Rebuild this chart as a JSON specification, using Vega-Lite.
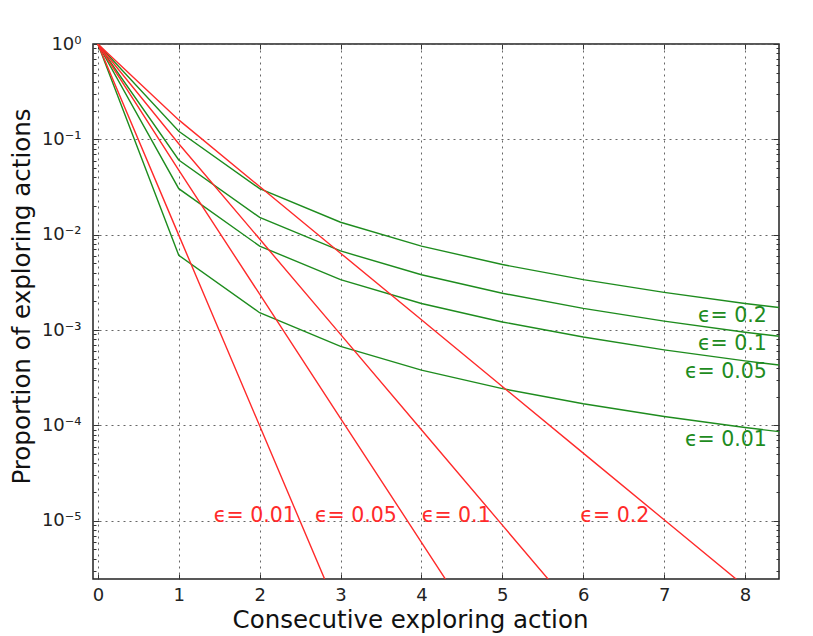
{
  "$schema": "https://vega.github.io/schema/vega-lite/v6.json",
  "width": 686,
  "height": 535,
  "autosize": {"type": "none"},
  "padding": {"left": 93, "top": 44, "right": 34, "bottom": 57},
  "background": "white",
  "config": {
    "font": "DejaVu Sans",
    "view": {"stroke": "#222", "strokeWidth": 1.5},
    "axis": {
      "domain": false,
      "labelFont": "DejaVu Sans",
      "titleFont": "DejaVu Sans",
      "labelColor": "#222",
      "titleColor": "#111",
      "labelFontSize": 18,
      "titleFontSize": 24.5,
      "titleFontWeight": "normal",
      "tickColor": "#333",
      "gridColor": "#666",
      "gridDash": [2, 4],
      "gridWidth": 1
    }
  },
  "datasets": {
    "curves": [
      {"kind": "zeta", "eps": 0.2, "k": 0, "p": 1},
      {"kind": "zeta", "eps": 0.2, "k": 1, "p": 0.12159},
      {"kind": "zeta", "eps": 0.2, "k": 2, "p": 0.030396},
      {"kind": "zeta", "eps": 0.2, "k": 3, "p": 0.013509},
      {"kind": "zeta", "eps": 0.2, "k": 4, "p": 0.007599},
      {"kind": "zeta", "eps": 0.2, "k": 5, "p": 0.0048634},
      {"kind": "zeta", "eps": 0.2, "k": 6, "p": 0.0033774},
      {"kind": "zeta", "eps": 0.2, "k": 7, "p": 0.0024813},
      {"kind": "zeta", "eps": 0.2, "k": 8, "p": 0.0018998},
      {"kind": "zeta", "eps": 0.2, "k": 9, "p": 0.0015011},
      {"kind": "zeta", "eps": 0.1, "k": 0, "p": 1},
      {"kind": "zeta", "eps": 0.1, "k": 1, "p": 0.060793},
      {"kind": "zeta", "eps": 0.1, "k": 2, "p": 0.015198},
      {"kind": "zeta", "eps": 0.1, "k": 3, "p": 0.0067547},
      {"kind": "zeta", "eps": 0.1, "k": 4, "p": 0.0037995},
      {"kind": "zeta", "eps": 0.1, "k": 5, "p": 0.0024317},
      {"kind": "zeta", "eps": 0.1, "k": 6, "p": 0.0016887},
      {"kind": "zeta", "eps": 0.1, "k": 7, "p": 0.0012407},
      {"kind": "zeta", "eps": 0.1, "k": 8, "p": 0.00094989},
      {"kind": "zeta", "eps": 0.1, "k": 9, "p": 0.00075053},
      {"kind": "zeta", "eps": 0.05, "k": 0, "p": 1},
      {"kind": "zeta", "eps": 0.05, "k": 1, "p": 0.030396},
      {"kind": "zeta", "eps": 0.05, "k": 2, "p": 0.007599},
      {"kind": "zeta", "eps": 0.05, "k": 3, "p": 0.0033774},
      {"kind": "zeta", "eps": 0.05, "k": 4, "p": 0.0018998},
      {"kind": "zeta", "eps": 0.05, "k": 5, "p": 0.0012159},
      {"kind": "zeta", "eps": 0.05, "k": 6, "p": 0.00084435},
      {"kind": "zeta", "eps": 0.05, "k": 7, "p": 0.00062034},
      {"kind": "zeta", "eps": 0.05, "k": 8, "p": 0.00047494},
      {"kind": "zeta", "eps": 0.05, "k": 9, "p": 0.00037527},
      {"kind": "zeta", "eps": 0.01, "k": 0, "p": 1},
      {"kind": "zeta", "eps": 0.01, "k": 1, "p": 0.0060793},
      {"kind": "zeta", "eps": 0.01, "k": 2, "p": 0.0015198},
      {"kind": "zeta", "eps": 0.01, "k": 3, "p": 0.00067547},
      {"kind": "zeta", "eps": 0.01, "k": 4, "p": 0.00037995},
      {"kind": "zeta", "eps": 0.01, "k": 5, "p": 0.00024317},
      {"kind": "zeta", "eps": 0.01, "k": 6, "p": 0.00016887},
      {"kind": "zeta", "eps": 0.01, "k": 7, "p": 0.00012407},
      {"kind": "zeta", "eps": 0.01, "k": 8, "p": 0.000094989},
      {"kind": "zeta", "eps": 0.01, "k": 9, "p": 0.000075053},
      {"kind": "geometric", "eps": 0.2, "k": 0, "p": 1},
      {"kind": "geometric", "eps": 0.2, "k": 1, "p": 0.16},
      {"kind": "geometric", "eps": 0.2, "k": 2, "p": 0.032},
      {"kind": "geometric", "eps": 0.2, "k": 3, "p": 0.0064},
      {"kind": "geometric", "eps": 0.2, "k": 4, "p": 0.00128},
      {"kind": "geometric", "eps": 0.2, "k": 5, "p": 0.000256},
      {"kind": "geometric", "eps": 0.2, "k": 6, "p": 0.0000512},
      {"kind": "geometric", "eps": 0.2, "k": 7, "p": 0.00001024},
      {"kind": "geometric", "eps": 0.2, "k": 8, "p": 0.000002048},
      {"kind": "geometric", "eps": 0.2, "k": 9, "p": 0.0000004096},
      {"kind": "geometric", "eps": 0.1, "k": 0, "p": 1},
      {"kind": "geometric", "eps": 0.1, "k": 1, "p": 0.09},
      {"kind": "geometric", "eps": 0.1, "k": 2, "p": 0.009},
      {"kind": "geometric", "eps": 0.1, "k": 3, "p": 0.0009},
      {"kind": "geometric", "eps": 0.1, "k": 4, "p": 0.00009},
      {"kind": "geometric", "eps": 0.1, "k": 5, "p": 0.000009},
      {"kind": "geometric", "eps": 0.1, "k": 6, "p": 0.0000009},
      {"kind": "geometric", "eps": 0.05, "k": 0, "p": 1},
      {"kind": "geometric", "eps": 0.05, "k": 1, "p": 0.0475},
      {"kind": "geometric", "eps": 0.05, "k": 2, "p": 0.002375},
      {"kind": "geometric", "eps": 0.05, "k": 3, "p": 0.00011875},
      {"kind": "geometric", "eps": 0.05, "k": 4, "p": 0.0000059375},
      {"kind": "geometric", "eps": 0.05, "k": 5, "p": 0.000000296875},
      {"kind": "geometric", "eps": 0.01, "k": 0, "p": 1},
      {"kind": "geometric", "eps": 0.01, "k": 1, "p": 0.0099},
      {"kind": "geometric", "eps": 0.01, "k": 2, "p": 0.000099},
      {"kind": "geometric", "eps": 0.01, "k": 3, "p": 0.00000099}
    ],
    "labels": [
      {"kind": "zeta", "label": "ϵ= 0.2", "x": 8.27, "y": 0.00140},
      {"kind": "zeta", "label": "ϵ= 0.1", "x": 8.27, "y": 0.00072},
      {"kind": "zeta", "label": "ϵ= 0.05", "x": 8.27, "y": 0.00036},
      {"kind": "zeta", "label": "ϵ= 0.01", "x": 8.27, "y": 0.000070},
      {"kind": "geometric", "label": "ϵ= 0.01", "x": 1.94, "y": 0.0000113},
      {"kind": "geometric", "label": "ϵ= 0.05", "x": 3.19, "y": 0.0000113},
      {"kind": "geometric", "label": "ϵ= 0.1", "x": 4.43, "y": 0.0000113},
      {"kind": "geometric", "label": "ϵ= 0.2", "x": 6.39, "y": 0.0000113}
    ]
  },
  "resolve": {"axis": {"x": "independent", "y": "independent"}},
  "layer": [
    {
      "data": {"name": "curves"},
      "mark": {"type": "line", "clip": true, "strokeWidth": 1.4},
      "encoding": {
        "x": {
          "field": "k", "type": "quantitative",
          "scale": {"domain": [-0.06, 8.42], "nice": false, "zero": false},
          "axis": {
            "orient": "bottom", "values": [0, 1, 2, 3, 4, 5, 6, 7, 8], "format": "d",
            "title": "Consecutive exploring action", "grid": true,
            "tickSize": -5, "labelPadding": 12,
            "titleX": 317, "titleY": 41, "titleBaseline": "middle", "titleAlign": "center"
          }
        },
        "y": {
          "field": "p", "type": "quantitative",
          "scale": {"type": "log", "domain": [0.00000245, 1], "nice": false},
          "axis": {
            "orient": "left",
            "values": [0.000003, 0.000004, 0.000005, 0.000006, 0.000007, 0.000008, 0.000009, 0.00001, 0.00002, 0.00003, 0.00004, 0.00005, 0.00006, 0.00007, 0.00008, 0.00009, 0.0001, 0.0002, 0.0003, 0.0004, 0.0005, 0.0006, 0.0007, 0.0008, 0.0009, 0.001, 0.002, 0.003, 0.004, 0.005, 0.006, 0.007, 0.008, 0.009, 0.01, 0.02, 0.03, 0.04, 0.05, 0.06, 0.07, 0.08, 0.09, 0.1, 0.2, 0.3, 0.4, 0.5, 0.6, 0.7, 0.8, 0.9, 1],
            "labelExpr": "abs(log(datum.value)/LN10 - round(log(datum.value)/LN10)) < 0.001 ? '10' + replace(replace(replace(replace(replace(replace(replace('' + round(log(datum.value)/LN10), '-', '⁻'), '0', '⁰'), '1', '¹'), '2', '²'), '3', '³'), '4', '⁴'), '5', '⁵') : ''",
            "grid": true,
            "gridOpacity": {"condition": {"test": "abs(log(datum.value)/LN10 - round(log(datum.value)/LN10)) < 0.001", "value": 1}, "value": 0},
            "tickSize": {"condition": {"test": "abs(log(datum.value)/LN10 - round(log(datum.value)/LN10)) < 0.001", "value": -6}, "value": -3},
            "labelPadding": 18,
            "title": "Proportion of exploring actions",
            "titleX": -71, "titleY": 252, "titleBaseline": "middle", "titleAlign": "center", "titleAngle": -90
          }
        },
        "color": {
          "field": "kind", "type": "nominal",
          "scale": {"domain": ["geometric", "zeta"], "range": ["#ff2a2a", "#1e8c1e"]},
          "legend": null
        },
        "detail": {"field": "eps", "type": "nominal"}
      }
    },
    {
      "data": {"name": "labels"},
      "transform": [{"filter": "datum.kind == 'zeta'"}],
      "mark": {"type": "text", "align": "right", "baseline": "middle", "fontSize": 20.5, "font": "DejaVu Sans"},
      "encoding": {
        "x": {
          "field": "x", "type": "quantitative",
          "axis": {"orient": "top", "values": [0, 1, 2, 3, 4, 5, 6, 7, 8], "labels": false, "title": null, "grid": false, "tickSize": -5}
        },
        "y": {
          "field": "y", "type": "quantitative",
          "axis": {
            "orient": "right",
            "values": [0.000003, 0.000004, 0.000005, 0.000006, 0.000007, 0.000008, 0.000009, 0.00001, 0.00002, 0.00003, 0.00004, 0.00005, 0.00006, 0.00007, 0.00008, 0.00009, 0.0001, 0.0002, 0.0003, 0.0004, 0.0005, 0.0006, 0.0007, 0.0008, 0.0009, 0.001, 0.002, 0.003, 0.004, 0.005, 0.006, 0.007, 0.008, 0.009, 0.01, 0.02, 0.03, 0.04, 0.05, 0.06, 0.07, 0.08, 0.09, 0.1, 0.2, 0.3, 0.4, 0.5, 0.6, 0.7, 0.8, 0.9, 1],
            "labels": false, "title": null, "grid": false,
            "tickSize": {"condition": {"test": "abs(log(datum.value)/LN10 - round(log(datum.value)/LN10)) < 0.001", "value": -6}, "value": -3}
          }
        },
        "text": {"field": "label"},
        "color": {"field": "kind", "type": "nominal", "legend": null}
      }
    },
    {
      "data": {"name": "labels"},
      "transform": [{"filter": "datum.kind == 'geometric'"}],
      "mark": {"type": "text", "align": "center", "baseline": "middle", "fontSize": 20.5, "font": "DejaVu Sans"},
      "encoding": {
        "x": {"field": "x", "type": "quantitative", "axis": null},
        "y": {"field": "y", "type": "quantitative", "axis": null},
        "text": {"field": "label"},
        "color": {"field": "kind", "type": "nominal", "legend": null}
      }
    }
  ]
}
